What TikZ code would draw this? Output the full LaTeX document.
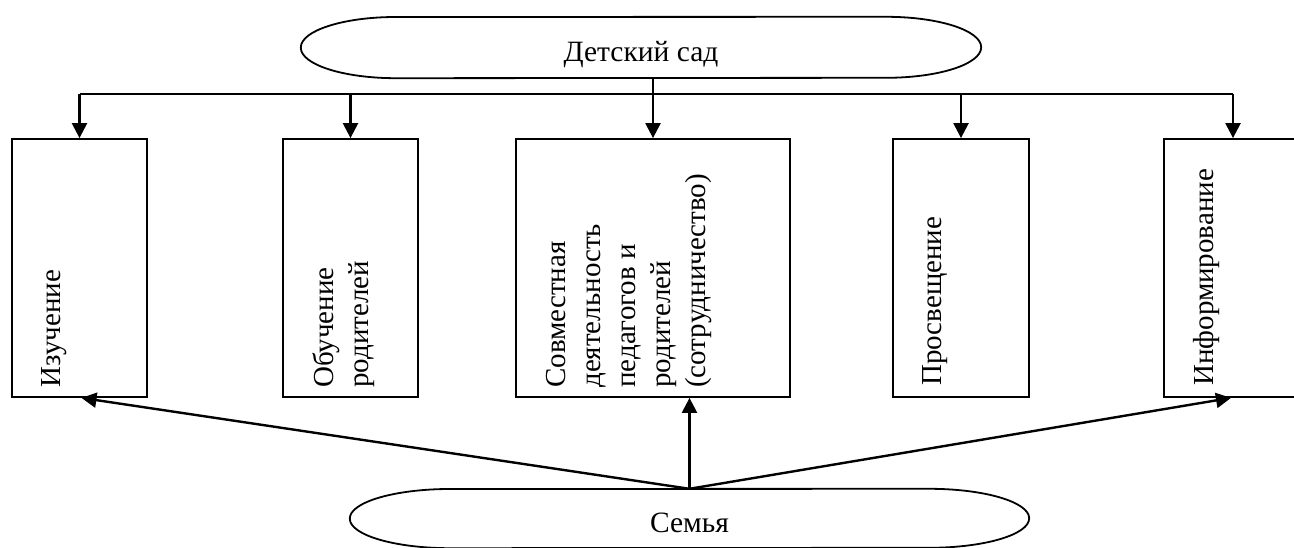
\documentclass[tikz,border=0pt]{standalone}
\usepackage{fontspec}
\setmainfont{Liberation Serif}
\usetikzlibrary{arrows.meta,calc}
\begin{document}
\begin{tikzpicture}[x=1pt,y=1pt,
  boxst/.style={draw, line width=1.8pt, minimum height=258pt, inner sep=0pt},
  vtext/.style={rotate=90, anchor=north west, inner sep=0pt, align=left,
    font=\fontsize{29pt}{35pt}\selectfont},
  conn/.style={line width=2.4pt},
  arr/.style={conn, -{Triangle[length=15pt,width=15pt]}},
  capst/.style={inner sep=0pt, font=\fontsize{29.5pt}{35pt}\selectfont},
  capline/.style={line width=1.8pt}]
\useasboundingbox (0,0) rectangle (1294,547);
\clip (0,0) rectangle (1294,547);

% top capsule
\node[capst, minimum width=680pt, minimum height=61pt, text height=33pt, text depth=4pt] (kg) at (641,499.5) {Детский сад};
\draw[capline] (kg.west) arc[start angle=180, end angle=90, x radius=95, y radius=30.5]
  -- ($(kg.north east)+(-95,0)$) arc[start angle=90, end angle=-90, x radius=95, y radius=30.5]
  -- ($(kg.south west)+(95,0)$) arc[start angle=270, end angle=180, x radius=95, y radius=30.5] -- cycle;

% bottom capsule
\node[capst, minimum width=679pt, minimum height=59pt, text height=32pt, text depth=4pt] (fam) at (689.5,28.5) {Семья};
\draw[capline] (fam.west) arc[start angle=180, end angle=90, x radius=100, y radius=29.5]
  -- ($(fam.north east)+(-100,0)$) arc[start angle=90, end angle=-90, x radius=100, y radius=29.5]
  -- ($(fam.south west)+(100,0)$) arc[start angle=270, end angle=180, x radius=100, y radius=29.5] -- cycle;

% boxes
\node[boxst, minimum width=135pt] (b1) at (79.5,279) {};
\node[boxst, minimum width=135pt] (b2) at (350.5,279) {};
\node[boxst, minimum width=274pt] (b3) at (653,279) {};
\node[boxst, minimum width=136pt] (b4) at (961,279) {};
\node[boxst, minimum width=138pt] (b5) at (1233,279) {};

% texts
\node[vtext] (t1) at ($(b1.south west)+(30.5,10)$) {Изучение};
\node[vtext] (t2) at ($(b2.south west)+(30.5,10)$) {Обучение\\родителей};
\node[vtext] (t3) at ($(b3.south west)+(30.5,10)$) {Совместная\\деятельность\\педагогов и\\родителей\\(сотрудничество)};
\node[vtext] (t4) at ($(b4.south west)+(30.5,12)$) {Просвещение};
\node[vtext] (t5) at ($(b5.south west)+(30.5,12)$) {Информирование};

% top connectors
\coordinate (bus) at (0,453);
\draw[conn] (b1.north |- bus) -- (b5.north |- bus);
\draw[arr] (kg.south -| b3.north) -- (b3.north);
\draw[arr] (b1.north |- bus) -- (b1.north);
\draw[arr] (b2.north |- bus) -- (b2.north);
\draw[arr] (b4.north |- bus) -- (b4.north);
\draw[arr] (b5.north |- bus) -- (b5.north);

% bottom connectors
\draw[arr] (fam.north) -- ($(b1.south)+(2,0)$);
\draw[arr] (fam.north) -- (fam.north |- b3.south);
\draw[arr] (fam.north) -- ($(b5.south)+(-2,0)$);
\end{tikzpicture}
\end{document}
